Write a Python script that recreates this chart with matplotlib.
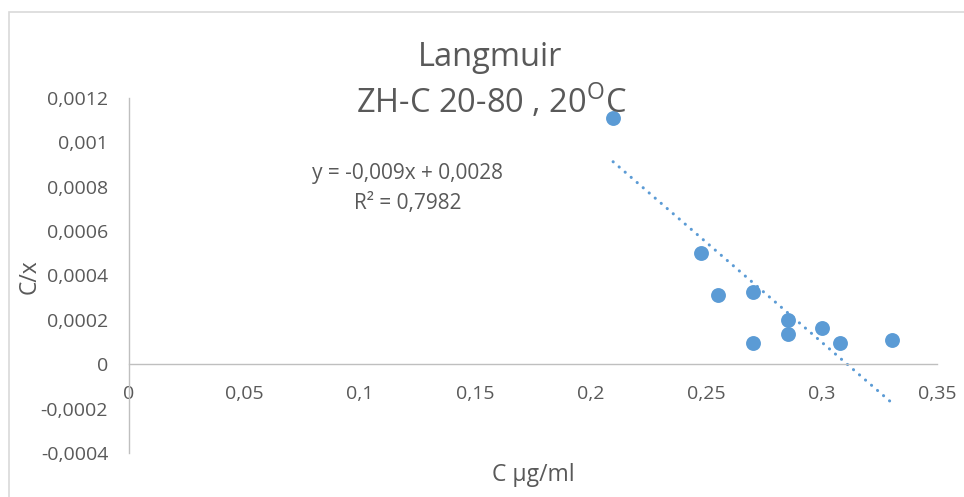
import numpy as np
import matplotlib
matplotlib.use("Agg")
import matplotlib.pyplot as plt
from matplotlib.patches import Rectangle

plt.rcParams['font.family'] = ['Open Sans', 'DejaVu Sans']
plt.rcParams['mathtext.fontset'] = 'custom'
plt.rcParams['mathtext.rm'] = 'Open Sans'

# ---- data ----
c_values = [0.2097, 0.2476, 0.2552, 0.2701, 0.2701, 0.2853, 0.2853, 0.3004, 0.3081, 0.3306]
cx_values = [0.001111, 0.000503, 0.000312, 0.000324, 0.000096, 0.000198, 0.000137, 0.000165, 0.000096, 0.000108]
trend_coef = [-0.009, 0.0028]   # slope, intercept as shown on the chart
x_ticks = [0, 0.05, 0.1, 0.15, 0.2, 0.25, 0.3, 0.35]
x_tick_labels = ["0", "0,05", "0,1", "0,15", "0,2", "0,25", "0,3", "0,35"]
y_ticks = [-0.0004, -0.0002, 0, 0.0002, 0.0004, 0.0006, 0.0008, 0.001, 0.0012]
y_tick_labels = ["-0,0004", "-0,0002", "0", "0,0002", "0,0004", "0,0006", "0,0008", "0,001", "0,0012"]
title_line1 = "Langmuir"
title_line2 = r"ZH-C 20-80 , 20$^{\mathrm{O}}$C"
eq_text = "y = -0,009x + 0,0028"
r2_text = "R² = 0,7982"
x_label = "C µg/ml"
y_label = "C/x"

W, H = 964, 497
fig = plt.figure(figsize=(W / 100, H / 100), dpi=100)
gray = '#595959'
blue = '#5B9BD5'
axis_col = '#BFBFBF'

# chart border
fig.patches.append(Rectangle((9 / W, -0.05), 1.1, 1 - 12 / H + 0.05, transform=fig.transFigure,
                             fill=False, edgecolor='#D9D9D9', linewidth=1.2))

ax = fig.add_axes([129 / W, 1 - 453 / H, (937 - 129) / W, (453 - 98) / H])
ax.set_xlim(0, 0.35)
ax.set_ylim(-0.0004, 0.0012)
ax.patch.set_alpha(0)

for s in ['top', 'right']:
    ax.spines[s].set_visible(False)
ax.spines['bottom'].set_position(('data', 0))
for s in ['left', 'bottom']:
    ax.spines[s].set_color(axis_col)
    ax.spines[s].set_linewidth(1.0)

ax.set_xticks(x_ticks)
ax.set_xticklabels(x_tick_labels)
ax.set_yticks(y_ticks)
ax.set_yticklabels(y_tick_labels)
ax.tick_params(axis='both', length=0, labelsize=14, labelcolor=gray)
ax.tick_params(axis='x', pad=15)
ax.tick_params(axis='y', pad=15)

x = np.array(c_values)
y = np.array(cx_values)
ax.scatter(x, y, s=115, color=blue, zorder=3, linewidths=0)

xt = np.array([x.min(), x.max()])
ax.plot(xt, np.polyval(trend_coef, xt), color=blue, linewidth=2.2,
        linestyle=(0, (0.05, 2.55)), dash_capstyle='round', zorder=2)

fig.text(490 / W, 1 - 57 / H, title_line1, ha='center', va='center', fontsize=23.5, color=gray)
fig.text(491 / W, 1 - 102 / H, title_line2, ha='center', va='center', fontsize=23.5, color=gray)
fig.text(408 / W, 1 - 173 / H, eq_text, ha='center', va='center', fontsize=15, color=gray)
fig.text(408 / W, 1 - 203 / H, r2_text, ha='center', va='center', fontsize=15, color=gray)
fig.text(533 / W, 1 - 475 / H, x_label, ha='center', va='center', fontsize=16.5, color=gray)
fig.text(30 / W, 1 - 277 / H, y_label, ha='center', va='center', fontsize=16.5, color=gray, rotation=90)

fig.savefig("out.png", dpi=100)
